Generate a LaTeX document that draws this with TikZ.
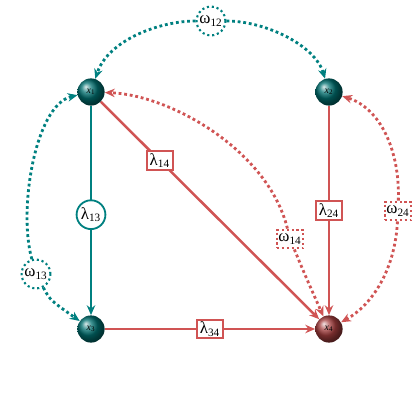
\documentclass[tikz,border=0pt]{standalone}
\usepackage{fontspec}
\setmainfont{Liberation Serif}
\usetikzlibrary{arrows.meta}
\definecolor{tealc}{RGB}{0,128,128}
\definecolor{redc}{RGB}{208,84,84}
\definecolor{tealball}{RGB}{0,112,112}
\definecolor{redball}{RGB}{165,62,62}
\begin{document}
\begin{tikzpicture}[x=0.025cm,y=-0.025cm,
  var/.style={circle,minimum size=0.68cm,inner sep=0pt,font=\scriptsize,ball color=tealball},
  varred/.style={var,ball color=redball},
  tip/.style={-{Stealth[length=7pt,width=6pt]}},
  tedge/.style={tealc,line width=1.8pt,tip},
  redge/.style={redc,line width=1.8pt,tip},
  tdot/.style={tealc,line width=2pt,dotted,tip},
  rdot/.style={redc,line width=2pt,dotted,tip},
  lbox/.style={draw=redc,line width=1.3pt,fill=white,rectangle,minimum width=0.65cm,minimum height=0.47cm,inner sep=1pt,font=\large,text=black},
  lcirc/.style={draw=tealc,line width=1.3pt,fill=white,circle,minimum size=0.72cm,inner sep=0pt,font=\large,text=black},
  wcirc/.style={draw=tealc,line width=1.5pt,dotted,fill=white,circle,minimum size=0.72cm,inner sep=0pt,font=\large,text=black},
  wbox/.style={draw=redc,line width=1.5pt,dotted,fill=white,rectangle,minimum width=0.65cm,minimum height=0.47cm,inner sep=1pt,font=\large,text=black}
]
\useasboundingbox (0,0) rectangle (420,420);

\node[var] (x1) at (91,92) {\color{black}\textit{x}\textsubscript{1}};
\node[var] (x2) at (329,92) {\color{black}\textit{x}\textsubscript{2}};
\node[var] (x3) at (91,329) {\color{black}\textit{x}\textsubscript{3}};
\node[varred] (x4) at (329,329) {\color{black}\textit{x}\textsubscript{4}};

\node[wcirc] (w12) at (211,21) {ω\textsubscript{12}};
\node[wcirc] (w13) at (36,274) {ω\textsubscript{13}};
\node[wbox] (w14) at (290,239) {ω\textsubscript{14}};
\node[wbox] (w24) at (398,211) {ω\textsubscript{24}};

% solid edges
\draw[tedge] (x1) -- node[lcirc,pos=0.52] (l13) {λ\textsubscript{13}} (x3);
\draw[redge] (x1) -- node[lbox,pos=0.27] (l14) {λ\textsubscript{14}} (x4);
\draw[redge] (x2) -- node[lbox,pos=0.5] (l24) {λ\textsubscript{24}} (x4);
\draw[redge] (x3) -- node[lbox,pos=0.5] (l34) {λ\textsubscript{34}} (x4);

% dotted curves
\draw[tdot] (w12) .. controls (160,21) and (108,40) .. (x1);
\draw[tdot] (w12) .. controls (265,21) and (315,45) .. (x2);
\draw[tdot] (w13) .. controls (18,210) and (35,105) .. (x1);
\draw[tdot] (w13) .. controls (50,300) .. (x3);
\draw[rdot] (w14) .. controls (268,150) and (170,95) .. (x1);
\draw[rdot] (w14) .. controls (305,275) .. (x4);
\draw[rdot] (w24) .. controls (400,150) and (380,108) .. (x2);
\draw[rdot] (w24) .. controls (395,270) and (372,305) .. (x4);
\end{tikzpicture}
\end{document}
